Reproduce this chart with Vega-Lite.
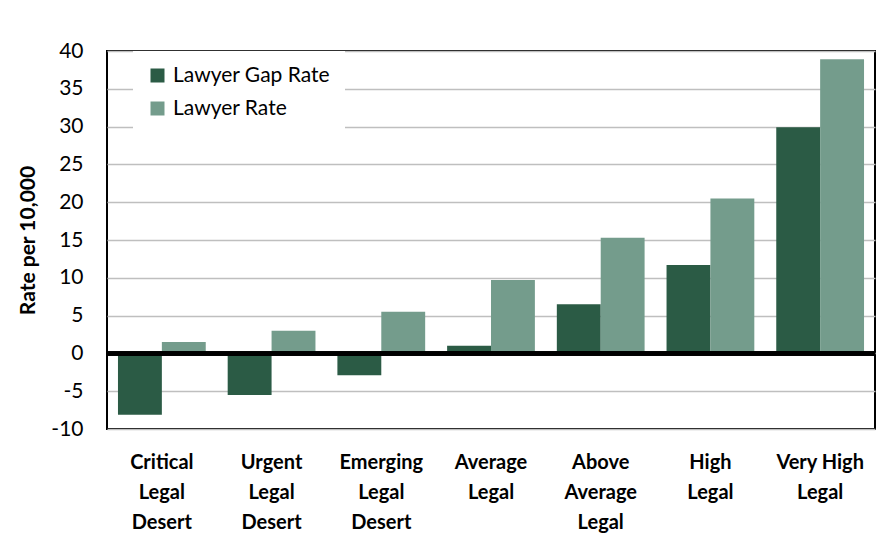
{
  "$schema": "https://vega.github.io/schema/vega-lite/v6.json",
  "width": 768,
  "height": 378,
  "autosize": {"type": "none"},
  "padding": {"left": 107, "top": 51, "right": 21, "bottom": 114},
  "background": "white",
  "config": {
    "view": {"stroke": "black", "strokeWidth": 2},
    "font": "Lato",
    "axisY": {
      "values": [-10, -5, 0, 5, 10, 15, 20, 25, 30, 35, 40],
      "labelOverlap": false,
      "titleFontSize": 21,
      "titleFontWeight": "bold",
      "titleColor": "black",
      "titlePadding": 12,
      "labelFontSize": 21,
      "labelColor": "black",
      "labelPadding": 24,
      "domain": false,
      "ticks": false,
      "grid": true,
      "gridColor": "#BFBFBF",
      "gridWidth": 1.5
    }
  },
  "data": {
    "values": [
      {"tier": "Critical Legal Desert", "series": "Lawyer Gap Rate", "value": -8.1},
      {"tier": "Critical Legal Desert", "series": "Lawyer Rate", "value": 1.5},
      {"tier": "Urgent Legal Desert", "series": "Lawyer Gap Rate", "value": -5.5},
      {"tier": "Urgent Legal Desert", "series": "Lawyer Rate", "value": 3.0},
      {"tier": "Emerging Legal Desert", "series": "Lawyer Gap Rate", "value": -2.9},
      {"tier": "Emerging Legal Desert", "series": "Lawyer Rate", "value": 5.5},
      {"tier": "Average Legal", "series": "Lawyer Gap Rate", "value": 1.0},
      {"tier": "Average Legal", "series": "Lawyer Rate", "value": 9.7},
      {"tier": "Above Average Legal", "series": "Lawyer Gap Rate", "value": 6.5},
      {"tier": "Above Average Legal", "series": "Lawyer Rate", "value": 15.3},
      {"tier": "High Legal", "series": "Lawyer Gap Rate", "value": 11.7},
      {"tier": "High Legal", "series": "Lawyer Rate", "value": 20.5},
      {"tier": "Very High Legal", "series": "Lawyer Gap Rate", "value": 29.9},
      {"tier": "Very High Legal", "series": "Lawyer Rate", "value": 38.9}
    ]
  },
  "layer": [
    {
      "mark": {"type": "bar"},
      "encoding": {
        "x": {
          "field": "tier",
          "type": "nominal",
          "sort": null,
          "scale": {"paddingInner": 0.2, "paddingOuter": 0.1},
          "axis": {
            "title": null,
            "labelAngle": 0,
            "labelFontSize": 20,
            "labelFontWeight": "bold",
            "labelColor": "black",
            "labelLineHeight": 30,
            "labelPadding": 23,
            "labelLimit": 200,
            "domain": false,
            "ticks": false,
            "labelExpr": "datum.label == 'Very High Legal' ? ['Very High', 'Legal'] : split(datum.label, ' ')"
          }
        },
        "xOffset": {"field": "series", "sort": ["Lawyer Gap Rate", "Lawyer Rate"]},
        "y": {
          "field": "value",
          "type": "quantitative",
          "title": "Rate per 10,000",
          "scale": {"domain": [-10, 40], "nice": false},
          "axis": {
            "values": [-10, -5, 0, 5, 10, 15, 20, 25, 30, 35, 40],
            "labelExpr": "(datum.value < 0 ? '-' : '') + abs(datum.value)"
          }
        },
        "color": {
          "field": "series",
          "type": "nominal",
          "scale": {"domain": ["Lawyer Gap Rate", "Lawyer Rate"], "range": ["#2B5B45", "#749C8C"]},
          "legend": {
            "title": null,
            "orient": "none",
            "legendX": 26,
            "legendY": 0,
            "fillColor": "white",
            "padding": 14,
            "symbolType": "square",
            "symbolSize": 196,
            "symbolStrokeWidth": 0,
            "labelFontSize": 21,
            "labelColor": "black",
            "labelOffset": 5,
            "rowPadding": 11
          }
        }
      }
    },
    {
      "mark": {"type": "rule", "color": "black", "strokeWidth": 3.5},
      "encoding": {
        "y": {
          "datum": 0,
          "type": "quantitative",
          "title": "Rate per 10,000",
          "axis": {
            "values": [-10, -5, 0, 5, 10, 15, 20, 25, 30, 35, 40],
            "labelExpr": "(datum.value < 0 ? '-' : '') + abs(datum.value)"
          }
        }
      }
    }
  ]
}
